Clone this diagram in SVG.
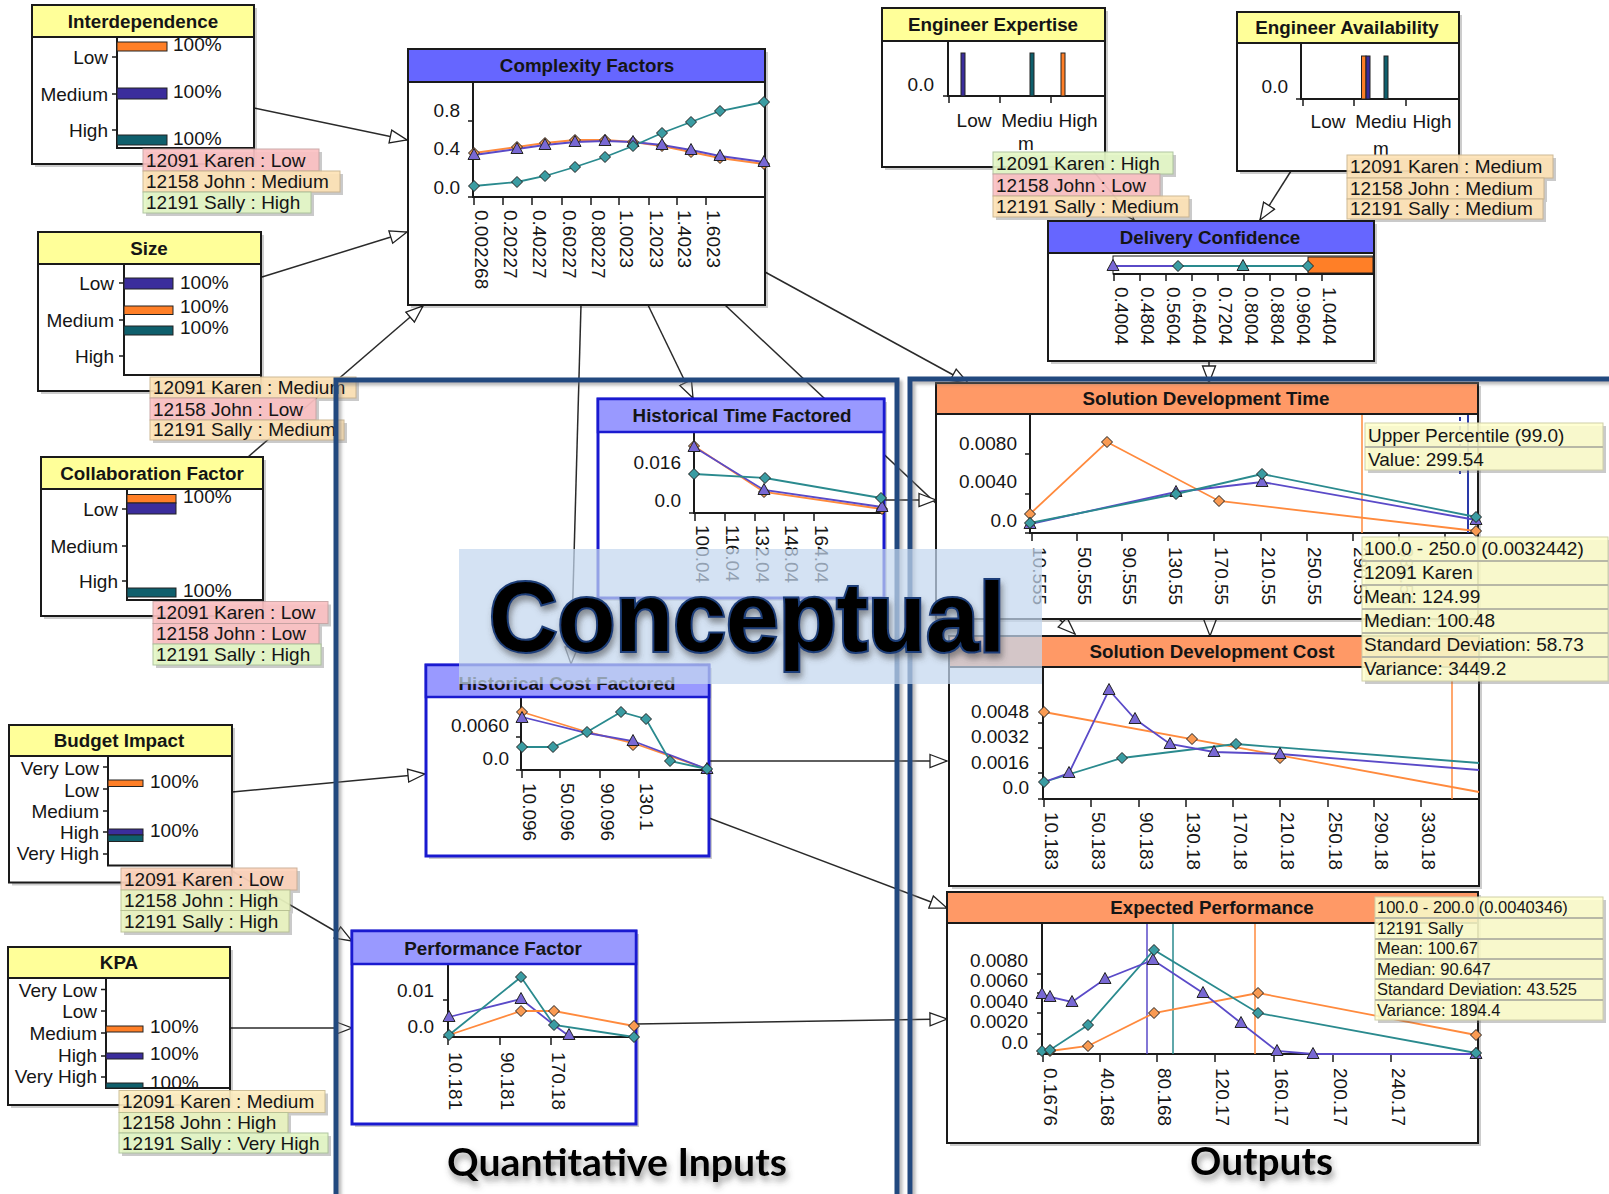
<svg xmlns="http://www.w3.org/2000/svg" width="1609" height="1194" viewBox="0 0 1609 1194">
<defs>
<style>
text{font-family:"Liberation Sans",Arial,sans-serif;font-size:19px;fill:#151515}
.hd{font-weight:bold;text-anchor:middle;font-size:18.8px}
.e{text-anchor:end}
.m{text-anchor:middle}
.box{fill:#fff;stroke:#1a1a1a;stroke-width:2}
.bx2{fill:#fff;stroke:#1a1ad0;stroke-width:3}
.sh{fill:#000;opacity:.2}
.hy{fill:#ffff99;stroke:#1a1a1a;stroke-width:2}
.hb{fill:#6666ff;stroke:#1a1a1a;stroke-width:2}
.hl{fill:#9999ff;stroke:#1a1ad0;stroke-width:2.5}
.ho{fill:#ff9966;stroke:#1a1a1a;stroke-width:2}
.ax{fill:none;stroke:#1a1a1a;stroke-width:2}
.tk{fill:none;stroke:#1a1a1a;stroke-width:1.5}
.bo{fill:#ff7f27;stroke:#222;stroke-width:1}
.bp{fill:#3b2d9c;stroke:#222;stroke-width:1}
.bt{fill:#0f5f6c;stroke:#222;stroke-width:1}
.so{fill:none;stroke:#ff8a3d;stroke-width:1.8}
.sp{fill:none;stroke:#5a4ac8;stroke-width:1.8}
.st{fill:none;stroke:#2a8a8e;stroke-width:1.8}
.mo{fill:#f99a52}
.mp{fill:#7868d4}
.mt{fill:#3a9ca2}
.ls{fill:#666;opacity:.35}
.lw{fill:#fbc1c3;stroke:#c7a3a3;stroke-width:1;opacity:.92}
.lm{fill:#fde2b6;stroke:#c9b48e;stroke-width:1;opacity:.92}
.lh{fill:#e4f7c6;stroke:#aac29a;stroke-width:1;opacity:.92}
.lk{fill:#fcd2ba;stroke:#c9ac94;stroke-width:1;opacity:.92}
.ly{fill:#eaf4c0;stroke:#b9c294;stroke-width:1;opacity:.92}
.lc{fill:#fdedc0;stroke:#c9bb92;stroke-width:1;opacity:.92}
.cn{fill:none;stroke:#2a2a2a;stroke-width:1.5}
.tt{fill:#ffffcc;fill-opacity:.86;stroke:#cfcfa8;stroke-width:1}
.ts{stroke:#b8b8a6;stroke-width:2}
.pn{fill:none;stroke:#21497f;stroke-width:5}
.big{font-weight:bold;fill:#000}
</style>
<marker id="ah" markerUnits="userSpaceOnUse" markerWidth="20" markerHeight="16" viewBox="0 0 20 16" refX="18" refY="8" orient="auto">
<path d="M1,1.5 L18,8 L1,14.5 Z" fill="#fff" stroke="#222" stroke-width="1.3"/>
</marker>
<path id="dm" d="M0,-5.5 L5.5,0 L0,5.5 L-5.5,0Z" stroke="#222" stroke-width="1"/>
<path id="tr" d="M0,-6.5 L6,4.5 L-6,4.5Z" stroke="#222" stroke-width="1"/>
<filter id="ds" x="-10%" y="-20%" width="120%" height="160%">
<feDropShadow dx="2" dy="5" stdDeviation="3" flood-color="#444" flood-opacity=".55"/>
</filter>
<filter id="pshadow" x="-5%" y="-5%" width="110%" height="110%">
<feDropShadow dx="3" dy="3" stdDeviation="1.5" flood-color="#777" flood-opacity=".5"/>
</filter>
</defs>

<rect width="1609" height="1194" fill="#fff"/>

<!-- connectors -->
<g id="connectors">
<path class="cn" d="M254,108 L407,140" marker-end="url(#ah)"/>
<path class="cn" d="M262,277 L407,232" marker-end="url(#ah)"/>
<path class="cn" d="M248,457 L423,306" marker-end="url(#ah)"/>
<path class="cn" d="M581,305 L571,664" marker-end="url(#ah)"/>
<path class="cn" d="M648,305 L693,398" marker-end="url(#ah)"/>
<path class="cn" d="M725,305 L1075,634" marker-end="url(#ah)"/>
<path class="cn" d="M765,272 L968,383" marker-end="url(#ah)"/>
<path class="cn" d="M884,500 L936,500" marker-end="url(#ah)"/>
<path class="cn" d="M1209,361 L1209,383" marker-end="url(#ah)"/>
<path class="cn" d="M1210,619 L1210,636" marker-end="url(#ah)"/>
<path class="cn" d="M1090,167 L1134,220" marker-end="url(#ah)"/>
<path class="cn" d="M1291,171 L1260,220" marker-end="url(#ah)"/>
<path class="cn" d="M232,792 L425,774" marker-end="url(#ah)"/>
<path class="cn" d="M232,871 L352,941" marker-end="url(#ah)"/>
<path class="cn" d="M230,1028 L352,1028" marker-end="url(#ah)"/>
<path class="cn" d="M709,761 L947,761" marker-end="url(#ah)"/>
<path class="cn" d="M709,818 L947,908" marker-end="url(#ah)"/>
<path class="cn" d="M636,1024 L947,1019" marker-end="url(#ah)"/>
</g>

<!-- Interdependence -->
<g id="interdependence">
<rect class="sh" x="35" y="8" width="222" height="159"/>
<rect class="box" x="32" y="5" width="222" height="159"/>
<path class="ax" d="M117,37V148H254"/>
<path class="tk" d="M112,57H117M112,94H117M112,130H117"/>
<text class="e" x="108" y="64">Low</text>
<text class="e" x="108" y="101">Medium</text>
<text class="e" x="108" y="137">High</text>
<rect class="bo" x="117" y="42" width="50" height="9"/>
<rect class="bp" x="117" y="88" width="50" height="11"/>
<rect class="bt" x="117" y="135" width="50" height="10"/>
<text x="173" y="51">100%</text>
<text x="173" y="98">100%</text>
<text x="173" y="145">100%</text>
<rect class="hy" x="32" y="5" width="222" height="32"/>
<text class="hd" x="143" y="28">Interdependence</text>
<rect class="ls" x="146" y="152" width="176" height="22"/><rect class="lw" x="143" y="149" width="176" height="22"/><text x="146" y="167">12091 Karen : Low</text>
<rect class="ls" x="146" y="174" width="197" height="21"/><rect class="lm" x="143" y="171" width="197" height="21"/><text x="146" y="188">12158 John : Medium</text>
<rect class="ls" x="146" y="195" width="168" height="21"/><rect class="lh" x="143" y="192" width="168" height="21"/><text x="146" y="209">12191 Sally : High</text>
</g>

<!-- Size -->
<g id="size">
<rect class="sh" x="41" y="235" width="223" height="159"/>
<rect class="box" x="38" y="232" width="223" height="159"/>
<path class="ax" d="M124,264V375H261"/>
<path class="tk" d="M119,283H124M119,320H124M119,356H124"/>
<text class="e" x="114" y="290">Low</text>
<text class="e" x="114" y="327">Medium</text>
<text class="e" x="114" y="363">High</text>
<rect class="bp" x="124" y="278" width="49" height="11"/>
<rect class="bo" x="124" y="306" width="49" height="8.5"/>
<rect class="bt" x="124" y="326" width="49" height="9"/>
<text x="180" y="289">100%</text>
<text x="180" y="313">100%</text>
<text x="180" y="334">100%</text>
<rect class="hy" x="38" y="232" width="223" height="32"/>
<text class="hd" x="149" y="255">Size</text>
<rect class="ls" x="153" y="380" width="206" height="21"/><rect class="lm" x="150" y="377" width="206" height="21"/><text x="153" y="394">12091 Karen : Medium</text>
<rect class="ls" x="153" y="401" width="166" height="22"/><rect class="lw" x="150" y="398" width="166" height="22"/><text x="153" y="416">12158 John : Low</text>
<rect class="ls" x="153" y="423" width="194" height="20"/><rect class="lm" x="150" y="420" width="194" height="20"/><text x="153" y="436">12191 Sally : Medium</text>
</g>

<!-- Collaboration Factor -->
<g id="collaboration-factor">
<rect class="sh" x="44" y="460" width="222" height="159"/>
<rect class="box" x="41" y="457" width="222" height="159"/>
<path class="ax" d="M127,489V600H263"/>
<path class="tk" d="M122,509H127M122,546H127M122,581H127"/>
<text class="e" x="118" y="516">Low</text>
<text class="e" x="118" y="553">Medium</text>
<text class="e" x="118" y="588">High</text>
<rect class="bo" x="127" y="494.5" width="49" height="8.5"/>
<rect class="bp" x="127" y="503" width="49" height="11"/>
<rect class="bt" x="127" y="588" width="49" height="9"/>
<text x="183" y="503">100%</text>
<text x="183" y="597">100%</text>
<rect class="hy" x="41" y="457" width="222" height="32"/>
<text class="hd" x="152" y="480">Collaboration Factor</text>
<rect class="ls" x="156" y="604.5" width="175" height="22"/><rect class="lw" x="153" y="601.5" width="175" height="22"/><text x="156" y="619">12091 Karen : Low</text>
<rect class="ls" x="156" y="626.5" width="166" height="20.5"/><rect class="lw" x="153" y="623.5" width="166" height="20.5"/><text x="156" y="640">12158 John : Low</text>
<rect class="ls" x="156" y="647" width="168" height="21"/><rect class="lh" x="153" y="644" width="168" height="21"/><text x="156" y="661">12191 Sally : High</text>
</g>

<!-- Budget Impact -->
<g id="budget-impact">
<rect class="sh" x="12" y="728" width="223" height="157.5"/>
<rect class="box" x="9" y="725" width="223" height="157.5"/>
<path class="ax" d="M108,756V865.5H232"/>
<path class="tk" d="M103,767H108M103,789H108M103,811H108M103,832H108M103,854H108"/>
<text class="e" x="99" y="775">Very Low</text>
<text class="e" x="99" y="797">Low</text>
<text class="e" x="99" y="818">Medium</text>
<text class="e" x="99" y="839">High</text>
<text class="e" x="99" y="860">Very High</text>
<rect class="bo" x="108" y="780" width="35" height="6.5"/>
<rect class="bp" x="108" y="829" width="35" height="6"/>
<rect class="bt" x="108" y="835" width="35" height="6.5"/>
<text x="150" y="788">100%</text>
<text x="150" y="837">100%</text>
<rect class="hy" x="9" y="725" width="223" height="31"/>
<text class="hd" x="119" y="747">Budget Impact</text>
<rect class="ls" x="124" y="871" width="176" height="22"/><rect class="lk" x="121" y="868" width="176" height="22"/><text x="124" y="886">12091 Karen : Low</text>
<rect class="ls" x="124" y="893" width="169" height="20.5"/><rect class="ly" x="121" y="890" width="169" height="20.5"/><text x="124" y="907">12158 John : High</text>
<rect class="ls" x="124" y="913.5" width="168" height="21.5"/><rect class="ly" x="121" y="910.5" width="168" height="21.5"/><text x="124" y="928">12191 Sally : High</text>
</g>

<!-- KPA -->
<g id="kpa">
<rect class="sh" x="11" y="950" width="222" height="158"/>
<rect class="box" x="8" y="947" width="222" height="158"/>
<path class="ax" d="M106,978V1088H230"/>
<path class="tk" d="M101,989.5H106M101,1011H106M101,1033H106M101,1056H106M101,1077H106"/>
<text class="e" x="97" y="997">Very Low</text>
<text class="e" x="97" y="1018">Low</text>
<text class="e" x="97" y="1040">Medium</text>
<text class="e" x="97" y="1062">High</text>
<text class="e" x="97" y="1083">Very High</text>
<rect class="bo" x="106" y="1026" width="37" height="6"/>
<rect class="bp" x="106" y="1053" width="37" height="6"/>
<rect class="bt" x="106" y="1083" width="37" height="5"/>
<text x="150" y="1033">100%</text>
<text x="150" y="1060">100%</text>
<text x="150" y="1089">100%</text>
<rect class="hy" x="8" y="947" width="222" height="31"/>
<text class="hd" x="119" y="969">KPA</text>
<rect class="ls" x="122" y="1093.5" width="206" height="22"/><rect class="lc" x="119" y="1090.5" width="206" height="22"/><text x="122" y="1108">12091 Karen : Medium</text>
<rect class="ls" x="122" y="1115.5" width="169" height="20.5"/><rect class="ly" x="119" y="1112.5" width="169" height="20.5"/><text x="122" y="1129">12158 John : High</text>
<rect class="ls" x="122" y="1136" width="209" height="20"/><rect class="lh" x="119" y="1133" width="209" height="20"/><text x="122" y="1150">12191 Sally : Very High</text>
</g>

<!-- Complexity Factors -->
<g id="complexity-factors">
<rect class="sh" x="411" y="52" width="357" height="256"/>
<rect class="box" x="408" y="49" width="357" height="256"/>
<path class="ax" d="M473,83V197H765"/>
<path class="tk" d="M468,121H473M468,159H473M468,197H473"/>
<text class="e" x="460" y="117">0.8</text>
<text class="e" x="460" y="155">0.4</text>
<text class="e" x="460" y="194">0.0</text>
<path class="tk" d="M474,197V205M503,197V205M532,197V205M562,197V205M591,197V205M619,197V205M649,197V205M677,197V205M706,197V205"/>
<text transform="translate(475,210) rotate(90)">0.002268</text>
<text transform="translate(504,210) rotate(90)">0.20227</text>
<text transform="translate(533,210) rotate(90)">0.40227</text>
<text transform="translate(563,210) rotate(90)">0.60227</text>
<text transform="translate(592,210) rotate(90)">0.80227</text>
<text transform="translate(620,210) rotate(90)">1.0023</text>
<text transform="translate(650,210) rotate(90)">1.2023</text>
<text transform="translate(678,210) rotate(90)">1.4023</text>
<text transform="translate(707,210) rotate(90)">1.6023</text>
<polyline class="so" points="474,153 517,147 545,143 575,140 605,140 633,142 662,146 691,152 720,158 764,164"/>
<polyline class="sp" points="474,155 517,149 545,145 575,142 605,141 633,142 662,145 691,150 720,156 764,162"/>
<polyline class="st" points="474,186 517,182 545,176 575,167 605,157 633,146 662,133 691,122 720,111 764,102"/>
<g class="mo"><use href="#dm" x="474" y="153"/><use href="#dm" x="517" y="147"/><use href="#dm" x="545" y="143"/><use href="#dm" x="575" y="140"/><use href="#dm" x="605" y="140"/><use href="#dm" x="633" y="142"/><use href="#dm" x="662" y="146"/><use href="#dm" x="691" y="152"/><use href="#dm" x="720" y="158"/><use href="#dm" x="764" y="164"/></g>
<g class="mp"><use href="#tr" x="474" y="155"/><use href="#tr" x="517" y="149"/><use href="#tr" x="545" y="145"/><use href="#tr" x="575" y="142"/><use href="#tr" x="605" y="141"/><use href="#tr" x="633" y="142"/><use href="#tr" x="662" y="145"/><use href="#tr" x="691" y="150"/><use href="#tr" x="720" y="156"/><use href="#tr" x="764" y="162"/></g>
<g class="mt"><use href="#dm" x="474" y="186"/><use href="#dm" x="517" y="182"/><use href="#dm" x="545" y="176"/><use href="#dm" x="575" y="167"/><use href="#dm" x="605" y="157"/><use href="#dm" x="633" y="146"/><use href="#dm" x="662" y="133"/><use href="#dm" x="691" y="122"/><use href="#dm" x="720" y="111"/><use href="#dm" x="764" y="102"/></g>
<rect class="hb" x="408" y="49" width="357" height="33"/>
<text class="hd" x="587" y="72">Complexity Factors</text>
</g>

<!-- Engineer Expertise -->
<g id="engineer-expertise">
<rect class="sh" x="885" y="11" width="223" height="159"/>
<rect class="box" x="882" y="8" width="223" height="159"/>
<path class="ax" d="M948,41V96H1105"/>
<path class="tk" d="M943,96H948M949,96V103M1000,96V103M1051,96V103"/>
<text class="e" x="934" y="91">0.0</text>
<rect class="bp" x="961" y="53" width="4" height="43"/>
<rect class="bt" x="1030" y="53" width="4" height="43"/>
<rect class="bo" x="1061" y="53" width="4" height="43"/>
<text class="m" x="974" y="127">Low</text>
<text class="m" x="1027" y="127">Mediu</text>
<text class="m" x="1078" y="127">High</text>
<text class="m" x="1026" y="150">m</text>
<rect class="hy" x="882" y="8" width="223" height="33"/>
<text class="hd" x="993" y="31">Engineer Expertise</text>
<rect class="ls" x="996" y="155" width="180" height="22"/><rect class="lh" x="993" y="152" width="180" height="22"/><text x="996" y="170">12091 Karen : High</text>
<rect class="ls" x="996" y="177" width="167" height="22"/><rect class="lw" x="993" y="174" width="167" height="22"/><text x="996" y="192">12158 John : Low</text>
<rect class="ls" x="996" y="199" width="196" height="21"/><rect class="lm" x="993" y="196" width="196" height="21"/><text x="996" y="213">12191 Sally : Medium</text>
</g>

<!-- Engineer Availability -->
<g id="engineer-availability">
<rect class="sh" x="1240" y="15" width="222" height="159"/>
<rect class="box" x="1237" y="12" width="222" height="159"/>
<path class="ax" d="M1301,43V99H1459"/>
<path class="tk" d="M1296,99H1301M1303,99V106M1354,99V106M1406,99V106"/>
<text class="e" x="1288" y="93">0.0</text>
<rect class="bo" x="1361.5" y="56" width="4.5" height="43"/>
<rect class="bp" x="1366" y="56" width="4" height="43"/>
<rect class="bt" x="1384" y="56" width="4" height="43"/>
<text class="m" x="1328" y="128">Low</text>
<text class="m" x="1381" y="128">Mediu</text>
<text class="m" x="1432" y="128">High</text>
<text class="m" x="1381" y="155">m</text>
<rect class="hy" x="1237" y="12" width="222" height="31"/>
<text class="hd" x="1347" y="34">Engineer Availability</text>
<rect class="ls" x="1350" y="158" width="206" height="23"/><rect class="lm" x="1347" y="155" width="206" height="23"/><text x="1350" y="173">12091 Karen : Medium</text>
<rect class="ls" x="1350" y="181" width="197" height="21"/><rect class="lm" x="1347" y="178" width="197" height="21"/><text x="1350" y="195">12158 John : Medium</text>
<rect class="ls" x="1350" y="202" width="196" height="20"/><rect class="lm" x="1347" y="199" width="196" height="20"/><text x="1350" y="215">12191 Sally : Medium</text>
</g>

<!-- Delivery Confidence -->
<g id="delivery-confidence">
<rect class="sh" x="1051" y="224" width="326" height="140"/>
<rect class="box" x="1048" y="221" width="326" height="140"/>
<rect x="1113" y="256" width="260" height="18" fill="#fff" stroke="#1a1a1a" stroke-width="1"/>
<rect class="bo" x="1308" y="257" width="65" height="16"/>
<path class="ax" d="M1113,274H1373" stroke-width="2.5"/>
<path class="tk" d="M1114,274V281M1140,274V281M1166,274V281M1192,274V281M1218,274V281M1244,274V281M1270,274V281M1296,274V281M1322,274V281"/>
<text transform="translate(1115,287) rotate(90)">0.4004</text>
<text transform="translate(1141,287) rotate(90)">0.4804</text>
<text transform="translate(1167,287) rotate(90)">0.5604</text>
<text transform="translate(1193,287) rotate(90)">0.6404</text>
<text transform="translate(1219,287) rotate(90)">0.7204</text>
<text transform="translate(1245,287) rotate(90)">0.8004</text>
<text transform="translate(1271,287) rotate(90)">0.8804</text>
<text transform="translate(1297,287) rotate(90)">0.9604</text>
<text transform="translate(1323,287) rotate(90)">1.0404</text>
<path class="sp" d="M1113,266H1178"/>
<path class="st" d="M1178,266H1308"/>
<use href="#tr" x="1113" y="266" class="mp"/>
<use href="#dm" x="1178" y="266" class="mt"/>
<use href="#tr" x="1243" y="266" class="mt"/>
<use href="#dm" x="1308" y="266" class="mt"/>
<rect class="hb" x="1048" y="221" width="326" height="32"/>
<text class="hd" x="1210" y="244">Delivery Confidence</text>
</g>

<!-- Historical Time Factored -->
<g id="historical-time-factored">
<rect class="sh" x="601" y="402" width="286" height="199"/>
<rect class="bx2" x="598" y="399" width="286" height="199"/>
<path class="ax" d="M694,433V513H884"/>
<path class="tk" d="M689,474H694M689,513H694M695,513V521M725,513V521M755,513V521M784,513V521M814,513V521"/>
<text class="e" x="681" y="469">0.016</text>
<text class="e" x="681" y="507">0.0</text>
<text transform="translate(696,525) rotate(90)">100.04</text>
<text transform="translate(726,525) rotate(90)">116.04</text>
<text transform="translate(756,525) rotate(90)">132.04</text>
<text transform="translate(785,525) rotate(90)">148.04</text>
<text transform="translate(815,525) rotate(90)">164.04</text>
<polyline class="so" points="694,446 764,492 882,509"/>
<polyline class="sp" points="694,447 764,490 882,507"/>
<polyline class="st" points="694,474 765,478 881,498"/>
<g class="mo"><use href="#dm" x="694" y="446"/><use href="#dm" x="764" y="492"/><use href="#dm" x="882" y="509"/></g>
<g class="mp"><use href="#tr" x="694" y="447"/><use href="#tr" x="764" y="490"/><use href="#tr" x="882" y="507"/></g>
<g class="mt"><use href="#dm" x="694" y="474"/><use href="#dm" x="765" y="478"/><use href="#dm" x="881" y="498"/></g>
<rect class="hl" x="598" y="399" width="286" height="33"/>
<text class="hd" x="742" y="422">Historical Time Factored</text>
</g>

<!-- Historical Cost Factored -->
<g id="historical-cost-factored">
<rect class="sh" x="429" y="668" width="283" height="191"/>
<rect class="bx2" x="426" y="665" width="283" height="191"/>
<path class="ax" d="M521,697V770H709"/>
<path class="tk" d="M516,737H521M516,770H521M522,770V778M560,770V778M600,770V778M639,770V778"/>
<text class="e" x="509" y="732">0.0060</text>
<text class="e" x="509" y="765">0.0</text>
<text transform="translate(523,783) rotate(90)">10.096</text>
<text transform="translate(561,783) rotate(90)">50.096</text>
<text transform="translate(601,783) rotate(90)">90.096</text>
<text transform="translate(640,783) rotate(90)">130.1</text>
<polyline class="so" points="522,712 587,732 633,743 707,769"/>
<polyline class="sp" points="522,717 587,733 633,741 707,769"/>
<polyline class="st" points="522,747 553,747 587,732 621,712 646,719 670,761 707,769"/>
<g class="mo"><use href="#dm" x="522" y="712"/><use href="#dm" x="633" y="745"/></g>
<g class="mp"><use href="#tr" x="522" y="718"/><use href="#tr" x="633" y="741"/><use href="#tr" x="707" y="769"/></g>
<g class="mt"><use href="#dm" x="522" y="747"/><use href="#dm" x="553" y="747"/><use href="#dm" x="587" y="732"/><use href="#dm" x="621" y="712"/><use href="#dm" x="646" y="719"/><use href="#dm" x="670" y="761"/><use href="#dm" x="707" y="769"/></g>
<rect class="hl" x="426" y="665" width="283" height="32"/>
<text class="hd" x="567" y="690">Historical Cost Factored</text>
</g>

<!-- Performance Factor -->
<g id="performance-factor">
<rect class="sh" x="355" y="934" width="284" height="193"/>
<rect class="bx2" x="352" y="931" width="284" height="193"/>
<path class="ax" d="M448,964V1037H636"/>
<path class="tk" d="M443,1000H448M443,1037H448M448,1037V1045M500,1037V1045M551,1037V1045"/>
<text class="e" x="434" y="997">0.01</text>
<text class="e" x="434" y="1033">0.0</text>
<text transform="translate(449,1052) rotate(90)">10.181</text>
<text transform="translate(501,1052) rotate(90)">90.181</text>
<text transform="translate(552,1052) rotate(90)">170.18</text>
<polyline class="sp" points="449,1017 521,999 554,1025 569,1036"/>
<polyline class="so" points="449,1035 521,1011 554,1011 634,1026"/>
<polyline class="st" points="449,1035 521,977 554,1025 634,1037"/>
<g class="mp"><use href="#tr" x="449" y="1017"/><use href="#tr" x="521" y="999"/><use href="#tr" x="569" y="1035"/></g>
<g class="mo"><use href="#dm" x="521" y="1011"/><use href="#dm" x="554" y="1011"/><use href="#dm" x="634" y="1026"/></g>
<g class="mt"><use href="#dm" x="449" y="1035"/><use href="#dm" x="521" y="977"/><use href="#dm" x="554" y="1025"/><use href="#dm" x="634" y="1037"/></g>
<rect class="hl" x="352" y="931" width="284" height="33"/>
<text class="hd" x="493" y="955">Performance Factor</text>
</g>

<!-- Solution Development Time -->
<g id="solution-development-time">
<rect class="sh" x="939" y="386" width="542" height="236"/>
<rect class="box" x="936" y="383" width="542" height="236"/>
<path class="ax" d="M1030,414V533H1478"/>
<path class="tk" d="M1025,454H1030M1025,494H1030M1025,533H1030M1032,533V541M1077,533V541M1122,533V541M1168,533V541M1214,533V541M1261,533V541M1307,533V541M1353,533V541M1399,533V541M1445,533V541"/>
<text class="e" x="1017" y="450">0.0080</text>
<text class="e" x="1017" y="488">0.0040</text>
<text class="e" x="1017" y="527">0.0</text>
<text transform="translate(1033,547) rotate(90)">10.555</text>
<text transform="translate(1078,547) rotate(90)">50.555</text>
<text transform="translate(1123,547) rotate(90)">90.555</text>
<text transform="translate(1169,547) rotate(90)">130.55</text>
<text transform="translate(1215,547) rotate(90)">170.55</text>
<text transform="translate(1262,547) rotate(90)">210.55</text>
<text transform="translate(1308,547) rotate(90)">250.55</text>
<text transform="translate(1354,547) rotate(90)">290.55</text>
<text transform="translate(1400,547) rotate(90)">330.55</text>
<path d="M1362,414V533" stroke="#ff8a3d" stroke-width="1.5"/>
<path d="M1468,414V533" stroke="#2a3aa8" stroke-width="2"/>
<path d="M1460,417V474" stroke="#2a3aa8" stroke-width="2" stroke-dasharray="4,5"/>
<polyline class="so" points="1030,514 1107,442 1219,501 1476,531"/>
<polyline class="sp" points="1030,524 1176,492 1262,482 1476,520"/>
<polyline class="st" points="1030,523 1176,494 1262,474 1476,517"/>
<g class="mo"><use href="#dm" x="1030" y="514"/><use href="#dm" x="1107" y="442"/><use href="#dm" x="1219" y="501"/><use href="#dm" x="1476" y="531"/></g>
<g class="mp"><use href="#tr" x="1030" y="524"/><use href="#tr" x="1176" y="492"/><use href="#tr" x="1262" y="482"/><use href="#tr" x="1476" y="520"/></g>
<g class="mt"><use href="#dm" x="1030" y="523"/><use href="#dm" x="1176" y="494"/><use href="#dm" x="1262" y="474"/><use href="#dm" x="1476" y="517"/></g>
<rect class="ho" x="936" y="383" width="542" height="31"/>
<text class="hd" x="1206" y="405">Solution Development Time</text>
</g>

<!-- Solution Development Cost -->
<g id="solution-development-cost">
<rect class="sh" x="952" y="639" width="530" height="250"/>
<rect class="box" x="949" y="636" width="530" height="250"/>
<path class="ax" d="M1043,667V799H1479"/>
<path class="tk" d="M1038,723H1043M1038,748H1043M1038,773H1043M1038,799H1043M1044,799V807M1091,799V807M1139,799V807M1186,799V807M1233,799V807M1280,799V807M1328,799V807M1374,799V807M1421,799V807"/>
<text class="e" x="1029" y="718">0.0048</text>
<text class="e" x="1029" y="743">0.0032</text>
<text class="e" x="1029" y="769">0.0016</text>
<text class="e" x="1029" y="794">0.0</text>
<text transform="translate(1045,812) rotate(90)">10.183</text>
<text transform="translate(1092,812) rotate(90)">50.183</text>
<text transform="translate(1140,812) rotate(90)">90.183</text>
<text transform="translate(1187,812) rotate(90)">130.18</text>
<text transform="translate(1234,812) rotate(90)">170.18</text>
<text transform="translate(1281,812) rotate(90)">210.18</text>
<text transform="translate(1329,812) rotate(90)">250.18</text>
<text transform="translate(1375,812) rotate(90)">290.18</text>
<text transform="translate(1422,812) rotate(90)">330.18</text>
<path d="M1452,677V799" stroke="#ff8a3d" stroke-width="1.5"/>
<polyline class="so" points="1044,712 1479,792"/>
<polyline class="st" points="1044,782 1122,758 1236,744 1479,763"/>
<polyline class="sp" points="1044,782 1069,773 1109,690 1135,719 1170,744 1214,752 1280,754 1479,770"/>
<g class="mo"><use href="#dm" x="1044" y="712"/><use href="#dm" x="1192" y="739"/><use href="#dm" x="1280" y="758"/></g>
<g class="mt"><use href="#dm" x="1044" y="782"/><use href="#dm" x="1122" y="758"/><use href="#dm" x="1236" y="744"/></g>
<g class="mp"><use href="#tr" x="1069" y="773"/><use href="#tr" x="1109" y="690"/><use href="#tr" x="1135" y="719"/><use href="#tr" x="1170" y="744"/><use href="#tr" x="1214" y="752"/><use href="#tr" x="1280" y="754"/></g>
<rect class="ho" x="949" y="636" width="530" height="31"/>
<text class="hd" x="1212" y="658">Solution Development Cost</text>
</g>

<!-- Expected Performance -->
<g id="expected-performance">
<rect class="sh" x="950" y="895" width="531" height="251"/>
<rect class="box" x="947" y="892" width="531" height="251"/>
<path class="ax" d="M1042,923V1054H1478"/>
<path class="tk" d="M1037,974H1042M1037,993H1042M1037,1013H1042M1037,1034H1042M1037,1054H1042M1043,1054V1062M1100,1054V1062M1157,1054V1062M1215,1054V1062M1274,1054V1062M1333,1054V1062M1391,1054V1062"/>
<text class="e" x="1028" y="967">0.0080</text>
<text class="e" x="1028" y="987">0.0060</text>
<text class="e" x="1028" y="1008">0.0040</text>
<text class="e" x="1028" y="1028">0.0020</text>
<text class="e" x="1028" y="1049">0.0</text>
<text transform="translate(1044,1068) rotate(90)">0.1676</text>
<text transform="translate(1101,1068) rotate(90)">40.168</text>
<text transform="translate(1158,1068) rotate(90)">80.168</text>
<text transform="translate(1216,1068) rotate(90)">120.17</text>
<text transform="translate(1275,1068) rotate(90)">160.17</text>
<text transform="translate(1334,1068) rotate(90)">200.17</text>
<text transform="translate(1392,1068) rotate(90)">240.17</text>
<path d="M1147,923V1054" stroke="#5a4ac8" stroke-width="1.5"/>
<path d="M1173,923V1054" stroke="#2a8a8e" stroke-width="1.5"/>
<path d="M1255,923V1054" stroke="#ff8a3d" stroke-width="1.5"/>
<polyline class="so" points="1042,1051 1050,1051 1088,1046 1154,1013 1258,993 1476,1035"/>
<polyline class="st" points="1042,1051 1050,1050 1088,1025 1154,950 1258,1013 1476,1053"/>
<polyline class="sp" points="1042,994 1050,997 1072,1002 1105,979 1153,960 1203,993 1241,1023 1277,1051 1313,1054 1476,1054"/>
<g class="mo"><use href="#dm" x="1050" y="1051"/><use href="#dm" x="1088" y="1046"/><use href="#dm" x="1154" y="1013"/><use href="#dm" x="1258" y="993"/><use href="#dm" x="1476" y="1035"/></g>
<g class="mp"><use href="#tr" x="1042" y="994"/><use href="#tr" x="1050" y="997"/><use href="#tr" x="1072" y="1002"/><use href="#tr" x="1105" y="979"/><use href="#tr" x="1153" y="960"/><use href="#tr" x="1203" y="993"/><use href="#tr" x="1241" y="1023"/><use href="#tr" x="1277" y="1051"/><use href="#tr" x="1313" y="1054"/><use href="#tr" x="1476" y="1054"/></g>
<g class="mt"><use href="#dm" x="1042" y="1051"/><use href="#dm" x="1050" y="1050"/><use href="#dm" x="1088" y="1025"/><use href="#dm" x="1154" y="950"/><use href="#dm" x="1258" y="1013"/><use href="#dm" x="1476" y="1053"/></g>
<rect class="ho" x="947" y="892" width="531" height="31"/>
<text class="hd" x="1212" y="914">Expected Performance</text>
</g>

<!-- hover tooltips -->
<g id="tooltip-percentile">
<rect class="ls" x="1368" y="426" width="238" height="47"/>
<rect class="tt" x="1365" y="423" width="238" height="47"/>
<path class="ts" d="M1365,447H1603"/>
<text x="1368" y="442">Upper Percentile (99.0)</text>
<text x="1368" y="466">Value: 299.54</text>
</g>
<g id="tooltip-sdt">
<rect class="ls" x="1365" y="540" width="246" height="144"/>
<rect class="tt" x="1362" y="537" width="246" height="144"/>
<path class="ts" d="M1362,561H1608M1362,585H1608M1362,609H1608M1362,633H1608M1362,657H1608"/>
<text x="1364" y="555">100.0 - 250.0 (0.0032442)</text>
<text x="1364" y="579">12091 Karen</text>
<text x="1364" y="603">Mean: 124.99</text>
<text x="1364" y="627">Median: 100.48</text>
<text x="1364" y="651">Standard Deviation: 58.73</text>
<text x="1364" y="675">Variance: 3449.2</text>
</g>
<g id="tooltip-ep">
<rect class="ls" x="1378" y="900" width="228" height="123"/>
<rect class="tt" x="1375" y="897" width="228" height="123"/>
<path class="ts" d="M1375,918H1603M1375,939H1603M1375,959H1603M1375,979H1603M1375,1000H1603"/>
<text x="1377" y="913" style="font-size:16.5px">100.0 - 200.0 (0.0040346)</text>
<text x="1377" y="934" style="font-size:16.5px">12191 Sally</text>
<text x="1377" y="954" style="font-size:16.5px">Mean: 100.67</text>
<text x="1377" y="975" style="font-size:16.5px">Median: 90.647</text>
<text x="1377" y="995" style="font-size:16.5px">Standard Deviation: 43.525</text>
<text x="1377" y="1016" style="font-size:16.5px">Variance: 1894.4</text>
</g>

<!-- section frames -->
<g id="sections" filter="url(#pshadow)">
<rect class="pn" x="336" y="380" width="561" height="900"/>
<rect class="pn" x="910" y="379" width="800" height="900"/>
</g>

<!-- translucent banner with the big label -->
<g id="conceptual-banner">
<rect x="459" y="549" width="583" height="135" fill="#c3d7ef" fill-opacity=".72"/>
<text class="big" x="489" y="651" textLength="516" lengthAdjust="spacingAndGlyphs" filter="url(#ds)" style="font-size:98px;stroke:#1c3e78;stroke-width:4;paint-order:stroke">Conceptual</text>
</g>

<!-- section captions -->
<g id="captions" filter="url(#ds)">
<text class="big" x="447" y="1176" textLength="340" lengthAdjust="spacingAndGlyphs" style="font-family:Lato,'Liberation Sans',sans-serif;font-size:38px">Quantitative Inputs</text>
<text class="big" x="1190" y="1175" textLength="143" lengthAdjust="spacingAndGlyphs" style="font-family:Lato,'Liberation Sans',sans-serif;font-size:38px">Outputs</text>
</g>
</svg>
